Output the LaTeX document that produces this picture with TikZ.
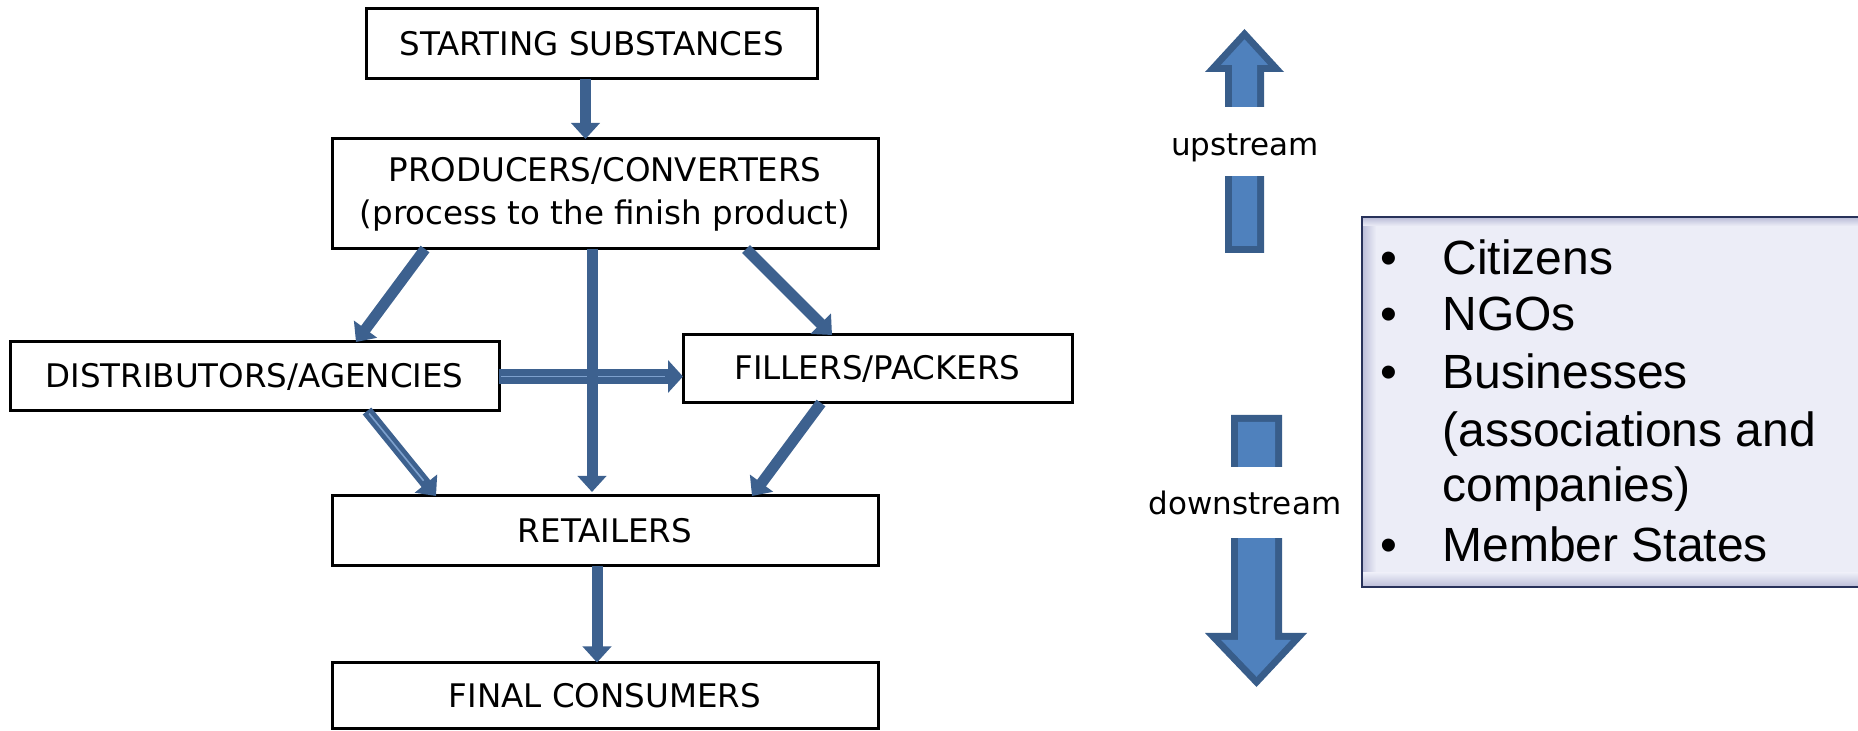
\documentclass[tikz,border=0pt]{standalone}
\usepackage{fontspec}
\usetikzlibrary{arrows.meta,calc}
\newfontfamily\boxfont{DejaVu Sans}
\newfontfamily\listfont{Liberation Sans}
\definecolor{arrowblue}{RGB}{61,97,143}
\definecolor{arrowlight}{RGB}{125,160,205}
\definecolor{blockfill}{RGB}{79,129,189}
\definecolor{blockedge}{RGB}{56,93,138}
\definecolor{listfill}{RGB}{236,237,247}
\definecolor{listedge}{RGB}{40,50,90}
\definecolor{listshade}{RGB}{190,192,218}
\tikzset{
  stagebox/.style={draw=black, line width=1.5pt, fill=white, inner sep=0pt, outer sep=0pt,
    align=center, font=\boxfont\fontsize{16.25}{21.5}\selectfont},
  flow/.style={draw=arrowblue, line width=5.5pt, -{Triangle[width=14pt,length=8pt]}},
  flowwide/.style={draw=arrowblue, line width=7.5pt, -{Triangle[width=16pt,length=7.5pt]}},
  lightline/.style={draw=arrowlight, line width=0.8pt},
  streamlbl/.style={inner sep=0pt, font=\boxfont\fontsize{15.5}{18}\selectfont},
  listtxt/.style={inner sep=0pt, anchor=base west, font=\listfont\fontsize{24}{28.65}\selectfont},
}
\begin{document}
\begin{tikzpicture}[x=0.5pt,y=-0.5pt]
\useasboundingbox (0,0) rectangle (1858,731);

% stage boxes
\node[stagebox, minimum width=225.5pt, minimum height=35pt] (ss) at (591.5,44) {STARTING SUBSTANCES};
\node[stagebox, minimum width=273pt, minimum height=55pt] (pc) at (605,194) {PRODUCERS/CONVERTERS\\(process to the finish product)};
\node[stagebox, minimum width=244.5pt, minimum height=34.5pt] (da) at (254.5,376.5) {DISTRIBUTORS/AGENCIES};
\node[stagebox, minimum width=194.5pt, minimum height=34pt] (fp) at (877.5,369) {FILLERS/PACKERS};
\node[stagebox, minimum width=273pt, minimum height=35pt] (ret) at (605,531) {RETAILERS};
\node[stagebox, minimum width=273pt, minimum height=33pt] (fc) at (605,695.5) {FINAL CONSUMERS};

% connectors
\draw[flow] ([xshift=-3pt]ss.south) -- ([xshift=-9.75pt]pc.north);
\draw[flow] ([xshift=-90pt]pc.south) -- ([xshift=50.75pt]da.north);
\draw[flow] ([xshift=70.5pt]pc.south) -- ([xshift=-22.75pt]fp.north);
\draw[flowwide] (da.east) -- (da.east -| fp.west);
\draw[lightline] ([xshift=1pt]da.east) -- ([xshift=-9pt]da.east -| fp.west);
\draw[flow] ([xshift=-6.5pt]pc.south) -- ([xshift=-6.5pt,yshift=2pt]ret.north);
\coordinate (d1) at ([xshift=56.25pt]da.south);
\coordinate (d2) at ([xshift=-84.5pt]ret.north);
\draw[flow] (d1) -- (d2);
\draw[lightline] ($(d1)!0.03!(d2)$) -- ($(d1)!0.82!(d2)$);
\draw[flow] ([xshift=-28.25pt]fp.south) -- ([xshift=73.5pt]ret.north);
\draw[flow] ([xshift=-4pt]ret.south) -- ([xshift=-4pt]fc.north);

% upstream block arrow
\fill[blockedge] (1225,253) -- (1225,72) -- (1205,72) -- (1244.5,29) -- (1284,72) -- (1264,72) -- (1264,253) -- cycle;
\fill[blockfill] (1232,246) -- (1232,65) -- (1220.9,65) -- (1244.5,39.3) -- (1268.1,65) -- (1257,65) -- (1257,246) -- cycle;
\fill[white] (1195,107) rectangle (1295,176);
\node[streamlbl] (up) at (1245,148) {upstream};

% downstream block arrow
\fill[blockedge] (1231,415) -- (1282,415) -- (1282,633) -- (1307,633) -- (1256.5,687) -- (1205,633) -- (1231,633) -- cycle;
\fill[blockfill] (1238,422) -- (1275,422) -- (1275,640) -- (1290.8,640) -- (1256.5,676.8) -- (1221.2,640) -- (1238,640) -- cycle;
\fill[white] (1190,467) rectangle (1300,538);
\node[streamlbl] (down) at (1245,503) {downstream};

% list box
\fill[listfill] (1362,217) rectangle (1880,587);
\shade[left color=listshade, right color=listfill] (1363,218) rectangle (1376,586);
\shade[top color=listshade, bottom color=listfill] (1363,218) rectangle (1880,226);
\shade[top color=listfill, bottom color=listshade] (1363,573) rectangle (1880,586);
\draw[listedge, line width=1pt] (1880,217) -- (1362,217) -- (1362,587) -- (1880,587);

\node[listtxt] (b1) at (1380,275) {•};
\node[listtxt] (t1) at (1442,275) {Citizens};
\node[listtxt] (b2) at (1380,330.7) {•};
\node[listtxt] (t2) at (1442,330.7) {NGOs};
\node[listtxt] (b3) at (1380,388.3) {•};
\node[listtxt] (t3) at (1442,388.3) {Businesses};
\node[listtxt] (t4) at (1442,446.7) {(associations and};
\node[listtxt] (t5) at (1442,501.7) {companies)};
\node[listtxt] (b6) at (1380,561.7) {•};
\node[listtxt] (t6) at (1442,561.7) {Member States};
\end{tikzpicture}
\end{document}
